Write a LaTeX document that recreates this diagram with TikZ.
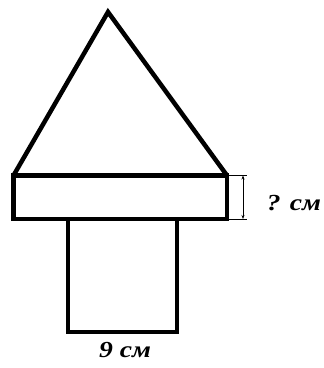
\documentclass[tikz,border=0pt]{standalone}
\usepackage{fontspec}
\setmainfont{Liberation Serif}
\usetikzlibrary{arrows.meta}
\tikzset{
  >={Stealth[length=4pt, width=3pt]},
  outline/.style={draw=black, line width=4.5pt, line join=miter},
  dimline/.style={<->, draw=black, line width=0.6pt},
  extline/.style={draw=black, line width=0.6pt},
  lbl/.style={font=\fontsize{23}{23}\selectfont\bfseries\itshape, text=black, inner sep=0pt,
    xscale=1.2, transform shape},
}
\begin{document}
\begin{tikzpicture}[x=1pt, y=-1pt]
  \useasboundingbox (0,0) rectangle (324,368);

  % corners of the figure
  \coordinate (apex) at (108,12);
  \coordinate (bandNW) at (13.5,175.5);
  \coordinate (bandNE) at (227,175.5);
  \coordinate (bandSE) at (227,219);
  \coordinate (bandSW) at (13.5,219);
  \coordinate (footNW) at (68,219);
  \coordinate (footNE) at (177,219);

  % roof, band and foot
  \draw[outline] (bandNW) -- (apex) -- (bandNE);
  \draw[outline] (bandNW) rectangle (bandSE);
  \draw[outline] (footNW) -- (68,332) -- (177,332) -- (footNE);

  % height of the band
  \coordinate (dimT) at (243,175.5);
  \coordinate (dimB) at (243,219);
  \draw[extline] (229,175.5) -- (247,175.5);
  \draw[extline] (229,219) -- (247,219);
  \draw[dimline] (dimT) -- (dimB);

  \node[lbl] (height) at (294,203) {? см};
  \node[lbl] (width) at (125,350) {9 см};
\end{tikzpicture}
\end{document}
